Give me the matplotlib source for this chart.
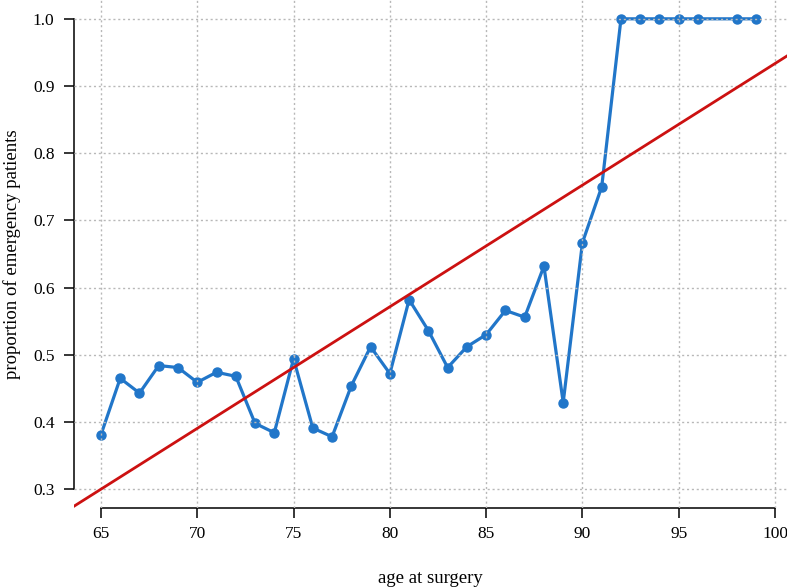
import matplotlib
matplotlib.use('Agg')
import matplotlib.pyplot as plt

plt.rcParams['font.family'] = ['Liberation Serif', 'DejaVu Serif']

# proportion of emergency patients by age at surgery
ages = [65, 66, 67, 68, 69, 70, 71, 72, 73, 74, 75, 76, 77, 78, 79, 80, 81, 82,
        83, 84, 85, 86, 87, 88, 89, 90, 91, 92, 93, 94, 95, 96, 98, 99]
props = [0.381, 0.465, 0.443, 0.484, 0.481, 0.459, 0.474, 0.468, 0.398, 0.384,
         0.494, 0.391, 0.378, 0.454, 0.512, 0.472, 0.582, 0.536, 0.481, 0.512,
         0.530, 0.566, 0.556, 0.632, 0.429, 0.667, 0.750, 1.0, 1.0, 1.0, 1.0,
         1.0, 1.0, 1.0]

# fitted line (intercept, slope)
fit_a = -0.8765
fit_b = 0.0181

xticks = [65, 70, 75, 80, 85, 90, 95, 100]
yticks = [0.3, 0.4, 0.5, 0.6, 0.7, 0.8, 0.9, 1.0]

fig = plt.figure(figsize=(7.87, 5.87), dpi=100)
ax = fig.add_axes([74 / 787, 79 / 587, 713 / 787, 508 / 587])

ax.plot(ages, props, '-o', color='#2176c9', lw=2.3, ms=6.5, zorder=2)
ax.axline((0, fit_a), slope=fit_b, color='#cc1111', lw=2.0, zorder=4)

ax.set_xlim(63.6, 100.62)
ax.set_ylim(0.272, 1.028)
ax.set_xticks(xticks)
ax.set_yticks(yticks)
ax.set_xticklabels([str(t) for t in xticks])
ax.set_yticklabels(['%.1f' % t for t in yticks])

ax.grid(True, color='#b8b8b8', ls=(0, (1.5, 2)), lw=1.0, zorder=3)
ax.set_axisbelow(False)
for gl in ax.get_xgridlines() + ax.get_ygridlines():
    gl.set_zorder(3)

ax.spines['top'].set_visible(False)
ax.spines['right'].set_visible(False)
ax.spines['bottom'].set_bounds(65, 100)
ax.spines['left'].set_bounds(0.3, 1.0)
for s in ['bottom', 'left']:
    ax.spines[s].set_linewidth(1.1)
    ax.spines[s].set_zorder(1)

ax.tick_params(axis='both', length=7, width=1.1, labelsize=12.5)
ax.tick_params(axis='x', pad=6)
ax.tick_params(axis='y', pad=7)

ax.set_xlabel('age at surgery', fontsize=13.5)
ax.set_ylabel('proportion of emergency patients', fontsize=13.5)
ax.xaxis.set_label_coords(0.5, -0.122)
ax.yaxis.set_label_coords(-0.0745, 0.5)

fig.savefig('out.png', dpi=100)
